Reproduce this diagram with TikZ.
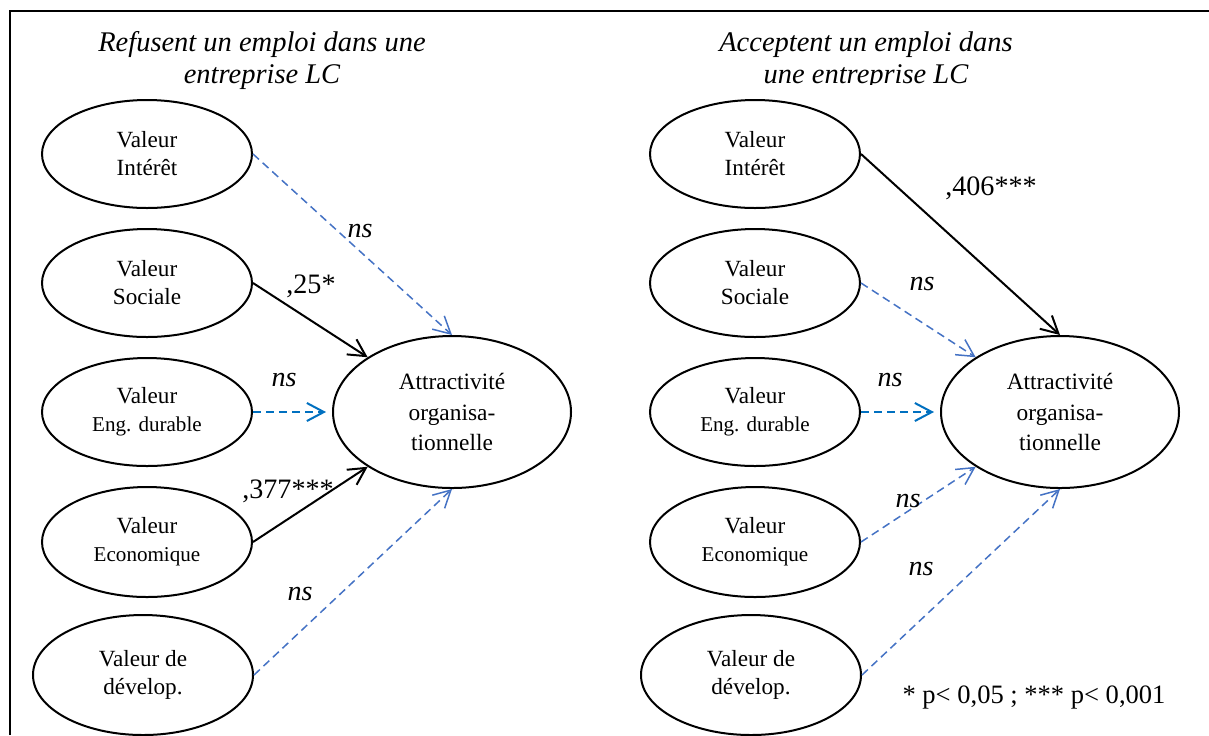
\documentclass[tikz,border=0pt]{standalone}
\usepackage{fontspec}
\setmainfont{Liberation Serif}
\usetikzlibrary{positioning,arrows.meta,shapes.geometric}
\definecolor{nsblue}{RGB}{68,114,196}
\definecolor{engblue}{RGB}{0,112,192}
\newcommand{\smallv}{\fontsize{12}{14}\selectfont}
\tikzset{
  val/.style={ellipse, draw=black, line width=0.4mm, inner sep=0pt, minimum width=42mm, minimum height=21.6mm, align=center, font=\fontsize{13.2}{15.9}\selectfont},
  attr/.style={val, minimum width=47.6mm, minimum height=30.4mm, font=\fontsize{13.3}{17.6}\selectfont},
  sigpath/.style={-{Straight Barb[length=3.4mm,width=3.6mm]}, line width=0.4mm, draw=black},
  nspath/.style={sigpath, draw=nsblue, line width=0.3mm, dash pattern=on 1.6mm off 1mm},
  engpath/.style={nspath, draw=engblue, line width=0.4mm, shorten >=1.2mm},
  coef/.style={anchor=base, inner sep=0pt, font=\fontsize{16}{18}\selectfont},
  ttl/.style={anchor=north, inner sep=0pt, align=center, font=\fontsize{16.2}{18.2}\selectfont\itshape}
}

\begin{document}
\begin{tikzpicture}[x=0.2mm, y=-0.2mm, node distance=3.8mm]
  \useasboundingbox (0,0) rectangle (1209,735);
  \draw[line width=0.4mm] (10,735) -- (10,11) -- (1209,11);

  % titles of the two groups
  \node[ttl] (ttlL) at (262,31) {Refusent un emploi dans une\\entreprise LC};
  \begin{scope}
    \clip (600,0) rectangle (1209,84);
    \node[ttl] (ttlR) at (866,31) {Acceptent un emploi dans\\une entreprise LC};
  \end{scope}

  % same five values and outcome in both panels
  \foreach \p/\dx in {L/0,R/608} {
    \begin{scope}[xshift=\dx*0.2mm]
      \node[val] (int\p) at (147,154) {Valeur\\Intérêt};
      \node[val, below=of int\p] (soc\p) {Valeur\\Sociale};
      \node[val, below=of soc\p] (eng\p) {Valeur\\{\smallv Eng. durable}};
      \node[val, below=of eng\p, minimum height=22mm] (eco\p) {Valeur\\{\smallv Economique}};
      \node[val, below=3.2mm of eco\p, xshift=-0.8mm, minimum width=44mm, minimum height=24mm] (dev\p) {Valeur de\\dévelop.};
      \node[attr, right=15.8mm of eng\p] (att\p) {Attractivité\\organisa-\\tionnelle};
    \end{scope}
  }

  % refusent
  \path (intL.east) edge[nspath] (attL.north)
        (socL.east) edge[sigpath] (attL.147)
        (engL.east) edge[engpath] (attL.west)
        (ecoL.east) edge[sigpath] (attL.213)
        (devL.east) edge[nspath] (attL.south);
  \node[coef] (cIntL) at (360,237) {\textit{ns}};
  \node[coef] (cSocL) at (311,293) {,25*};
  \node[coef] (cEngL) at (284,386) {\textit{ns}};
  \node[coef] (cEcoL) at (288,498) {,377***};
  \node[coef] (cDevL) at (300,600) {\textit{ns}};

  % acceptent
  \path (intR.east) edge[sigpath] (attR.north)
        (socR.east) edge[nspath] (attR.147)
        (engR.east) edge[engpath] (attR.west)
        (ecoR.east) edge[nspath] (attR.213)
        (devR.east) edge[nspath] (attR.south);
  \node[coef] (cIntR) at (991,195) {,406***};
  \node[coef] (cSocR) at (922,290) {\textit{ns}};
  \node[coef] (cEngR) at (890,386) {\textit{ns}};
  \node[coef] (cEcoR) at (908,507) {\textit{ns}};
  \node[coef] (cDevR) at (921,575) {\textit{ns}};

  \node[coef, font=\fontsize{15.1}{18}\selectfont] (note) at (1034,703) {* p< 0,05 ; *** p< 0,001};
\end{tikzpicture}
\end{document}
